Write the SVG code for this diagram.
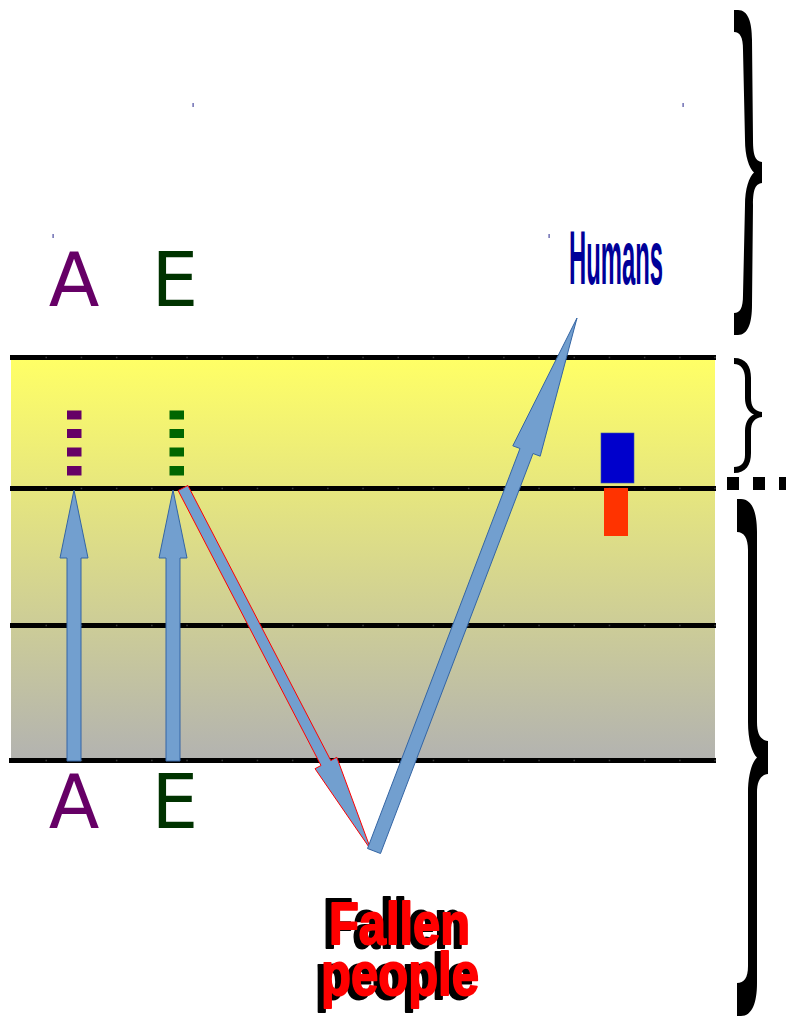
<svg xmlns="http://www.w3.org/2000/svg" width="786" height="1018" viewBox="0 0 786 1018">
  <style>
    .hline { stroke: #000000; stroke-width: 5; fill: none; }
    .tick { stroke: #555555; stroke-width: 1.5; stroke-dasharray: 1.5 33.7; fill: none; opacity: 0.7; }
    .arrow { fill: #729fcf; stroke: #3465a4; stroke-width: 1; stroke-linejoin: miter; }
    .arrow-red { fill: #729fcf; stroke: #ff0000; stroke-width: 1; }
    .brace { fill: #000000; }
    .letter { font-family: "DejaVu Sans", sans-serif; font-size: 74px; text-anchor: middle; }
    .fp { font-family: "Liberation Sans", Arial, sans-serif; font-weight: bold; stroke-width: 2; stroke-linejoin: round; }
    .mark { fill: #4a4aa0; }
  </style>
  <defs>
    <linearGradient id="band" x1="0" y1="360" x2="0" y2="758" gradientUnits="userSpaceOnUse">
      <stop offset="0" stop-color="#ffff66"/>
      <stop offset="1" stop-color="#b3b3b0"/>
    </linearGradient>
  </defs>

  <g id="background">
    <rect x="11" y="359" width="704" height="400" fill="url(#band)"/>
  </g>

  <g id="lines">
    <line class="hline" x1="10" y1="357.5" x2="716" y2="357.5"/>
    <line class="hline" x1="10" y1="488.5" x2="716" y2="488.5"/>
    <line class="hline" x1="10" y1="625.5" x2="716" y2="625.5"/>
    <line class="hline" x1="9" y1="760.5" x2="716" y2="760.5"/>
    <line class="tick" x1="45.5" y1="357.5" x2="716" y2="357.5" stroke-width="7"/>
    <line class="tick" x1="45.5" y1="488.5" x2="716" y2="488.5" stroke-width="7"/>
    <line class="tick" x1="45.5" y1="625.5" x2="716" y2="625.5" stroke-width="7"/>
    <line class="tick" x1="45.5" y1="760.5" x2="716" y2="760.5" stroke-width="7"/>
  </g>

  <g id="marks">
    <rect class="mark" x="192.5" y="103" width="1.2" height="4"/>
    <rect class="mark" x="682.5" y="103" width="1.2" height="4"/>
    <rect class="mark" x="52.5" y="234" width="1.2" height="4"/>
    <rect class="mark" x="548.5" y="234" width="1.2" height="4"/>
  </g>

  <g id="label-A-top"><text class="letter" x="74" y="306" fill="#660066">A</text></g>
  <g id="label-E-top"><text class="letter" x="175" y="306" fill="#003300">E</text></g>
  <g id="label-A-bottom"><text class="letter" x="74" y="828" fill="#660066">A</text></g>
  <g id="label-E-bottom"><text class="letter" x="175" y="828" fill="#003300">E</text></g>

  <g id="humans">
    <text x="569" y="284" font-family="Liberation Sans, Arial, sans-serif" font-weight="bold" font-size="76" fill="#000099" textLength="94" lengthAdjust="spacingAndGlyphs">Humans</text>
  </g>

  <g id="dashes-A" fill="#660066">
    <rect x="67" y="410.5" width="14.5" height="9"/>
    <rect x="67" y="429" width="14.5" height="9"/>
    <rect x="67" y="447.5" width="14.5" height="9"/>
    <rect x="67" y="466" width="14.5" height="9.5"/>
  </g>
  <g id="dashes-E" fill="#006600">
    <rect x="169.5" y="410.5" width="14.5" height="9"/>
    <rect x="169.5" y="429" width="14.5" height="9"/>
    <rect x="169.5" y="447.5" width="14.5" height="9"/>
    <rect x="169.5" y="466" width="14.5" height="9.5"/>
  </g>

  <g id="blue-box"><rect x="601" y="433" width="33" height="50" fill="#0000cc" stroke="#3355aa" stroke-width="0.6"/></g>
  <g id="red-box"><rect x="604" y="488" width="24" height="48" fill="#ff3300"/></g>

  <g id="connectors">
    <polygon class="arrow" points="67,761 81,761 81,558 88,558 74,490 60,558 67,558"/>
    <polygon class="arrow" points="166,761 180,761 180,558 187,558 173,490 159,558 166,558"/>
    <polygon class="arrow-red" points="178.1,490.5 187.9,485.5 330.8,760.5 336.8,757.3 371,850 315,768.7 321,765.5"/>
    <polygon class="arrow" points="367.5,848.5 380.5,853.5 533,453.5 540.2,456.2 577,318 512.8,445.8 520,448.5"/>
  </g>

  <g id="brace-top">
    <path class="brace" d="M734 10 L738 10 C748 10 752 22 752 40 L753 140 C753 157 756 161 762 162 L762 183 C756 184 753 188 753 205 L752 305 C752 323 748 335 738 335 L734 335 L734 313 C740 313 743 308 743 295 L745 205 C745 189 749 177 754 172.5 C749 168 745 156 745 140 L743 50 C743 37 740 32 734 32 Z"/>
  </g>
  <g id="brace-middle">
    <path class="brace" d="M734 358 C746 358 751 366 751 378 L751 398 C751 406 754 411 762 412 L762 417 C754 418 751 423 751 431 L751 453 C751 465 746 473 734 473 L734 467 C741 467 745 463 745 455 L745 431 C745 423 748 417 754 414.5 C748 412 745 406 745 398 L745 378 C745 370 741 364 734 364 Z"/>
  </g>
  <g id="brace-bottom">
    <path class="brace" d="M737 499 L741 499 C752 499 757 512 757 532 L757 722 C757 735 761 740 768 741 L768 774 C761 775 757 780 757 793 L757 983 C757 1003 752 1016 741 1016 L737 1016 L737 983 C744 983 748 978 748 966 L748 793 C748 775 752 762 757 757.5 C752 753 748 740 748 722 L748 550 C748 538 744 532 737 532 Z"/>
  </g>
  <g id="dots" fill="#000000">
    <rect x="727" y="477" width="12" height="13"/>
    <rect x="753" y="477" width="12" height="13"/>
    <rect x="779" y="477" width="12" height="13"/>
  </g>

  <g id="fallen-people">
    <text class="fp" x="323" y="948" font-size="70" fill="#000000" stroke="#000000" textLength="141" lengthAdjust="spacingAndGlyphs">Fallen</text>
    <text class="fp" x="315" y="999" font-size="65" fill="#000000" stroke="#000000" textLength="158" lengthAdjust="spacingAndGlyphs">people</text>
    <text class="fp" x="329" y="944" font-size="60" fill="#ff0000" stroke="#ff0000" textLength="141" lengthAdjust="spacingAndGlyphs">Fallen</text>
    <text class="fp" x="321" y="995" font-size="62" fill="#ff0000" stroke="#ff0000" textLength="158" lengthAdjust="spacingAndGlyphs">people</text>
  </g>
</svg>
